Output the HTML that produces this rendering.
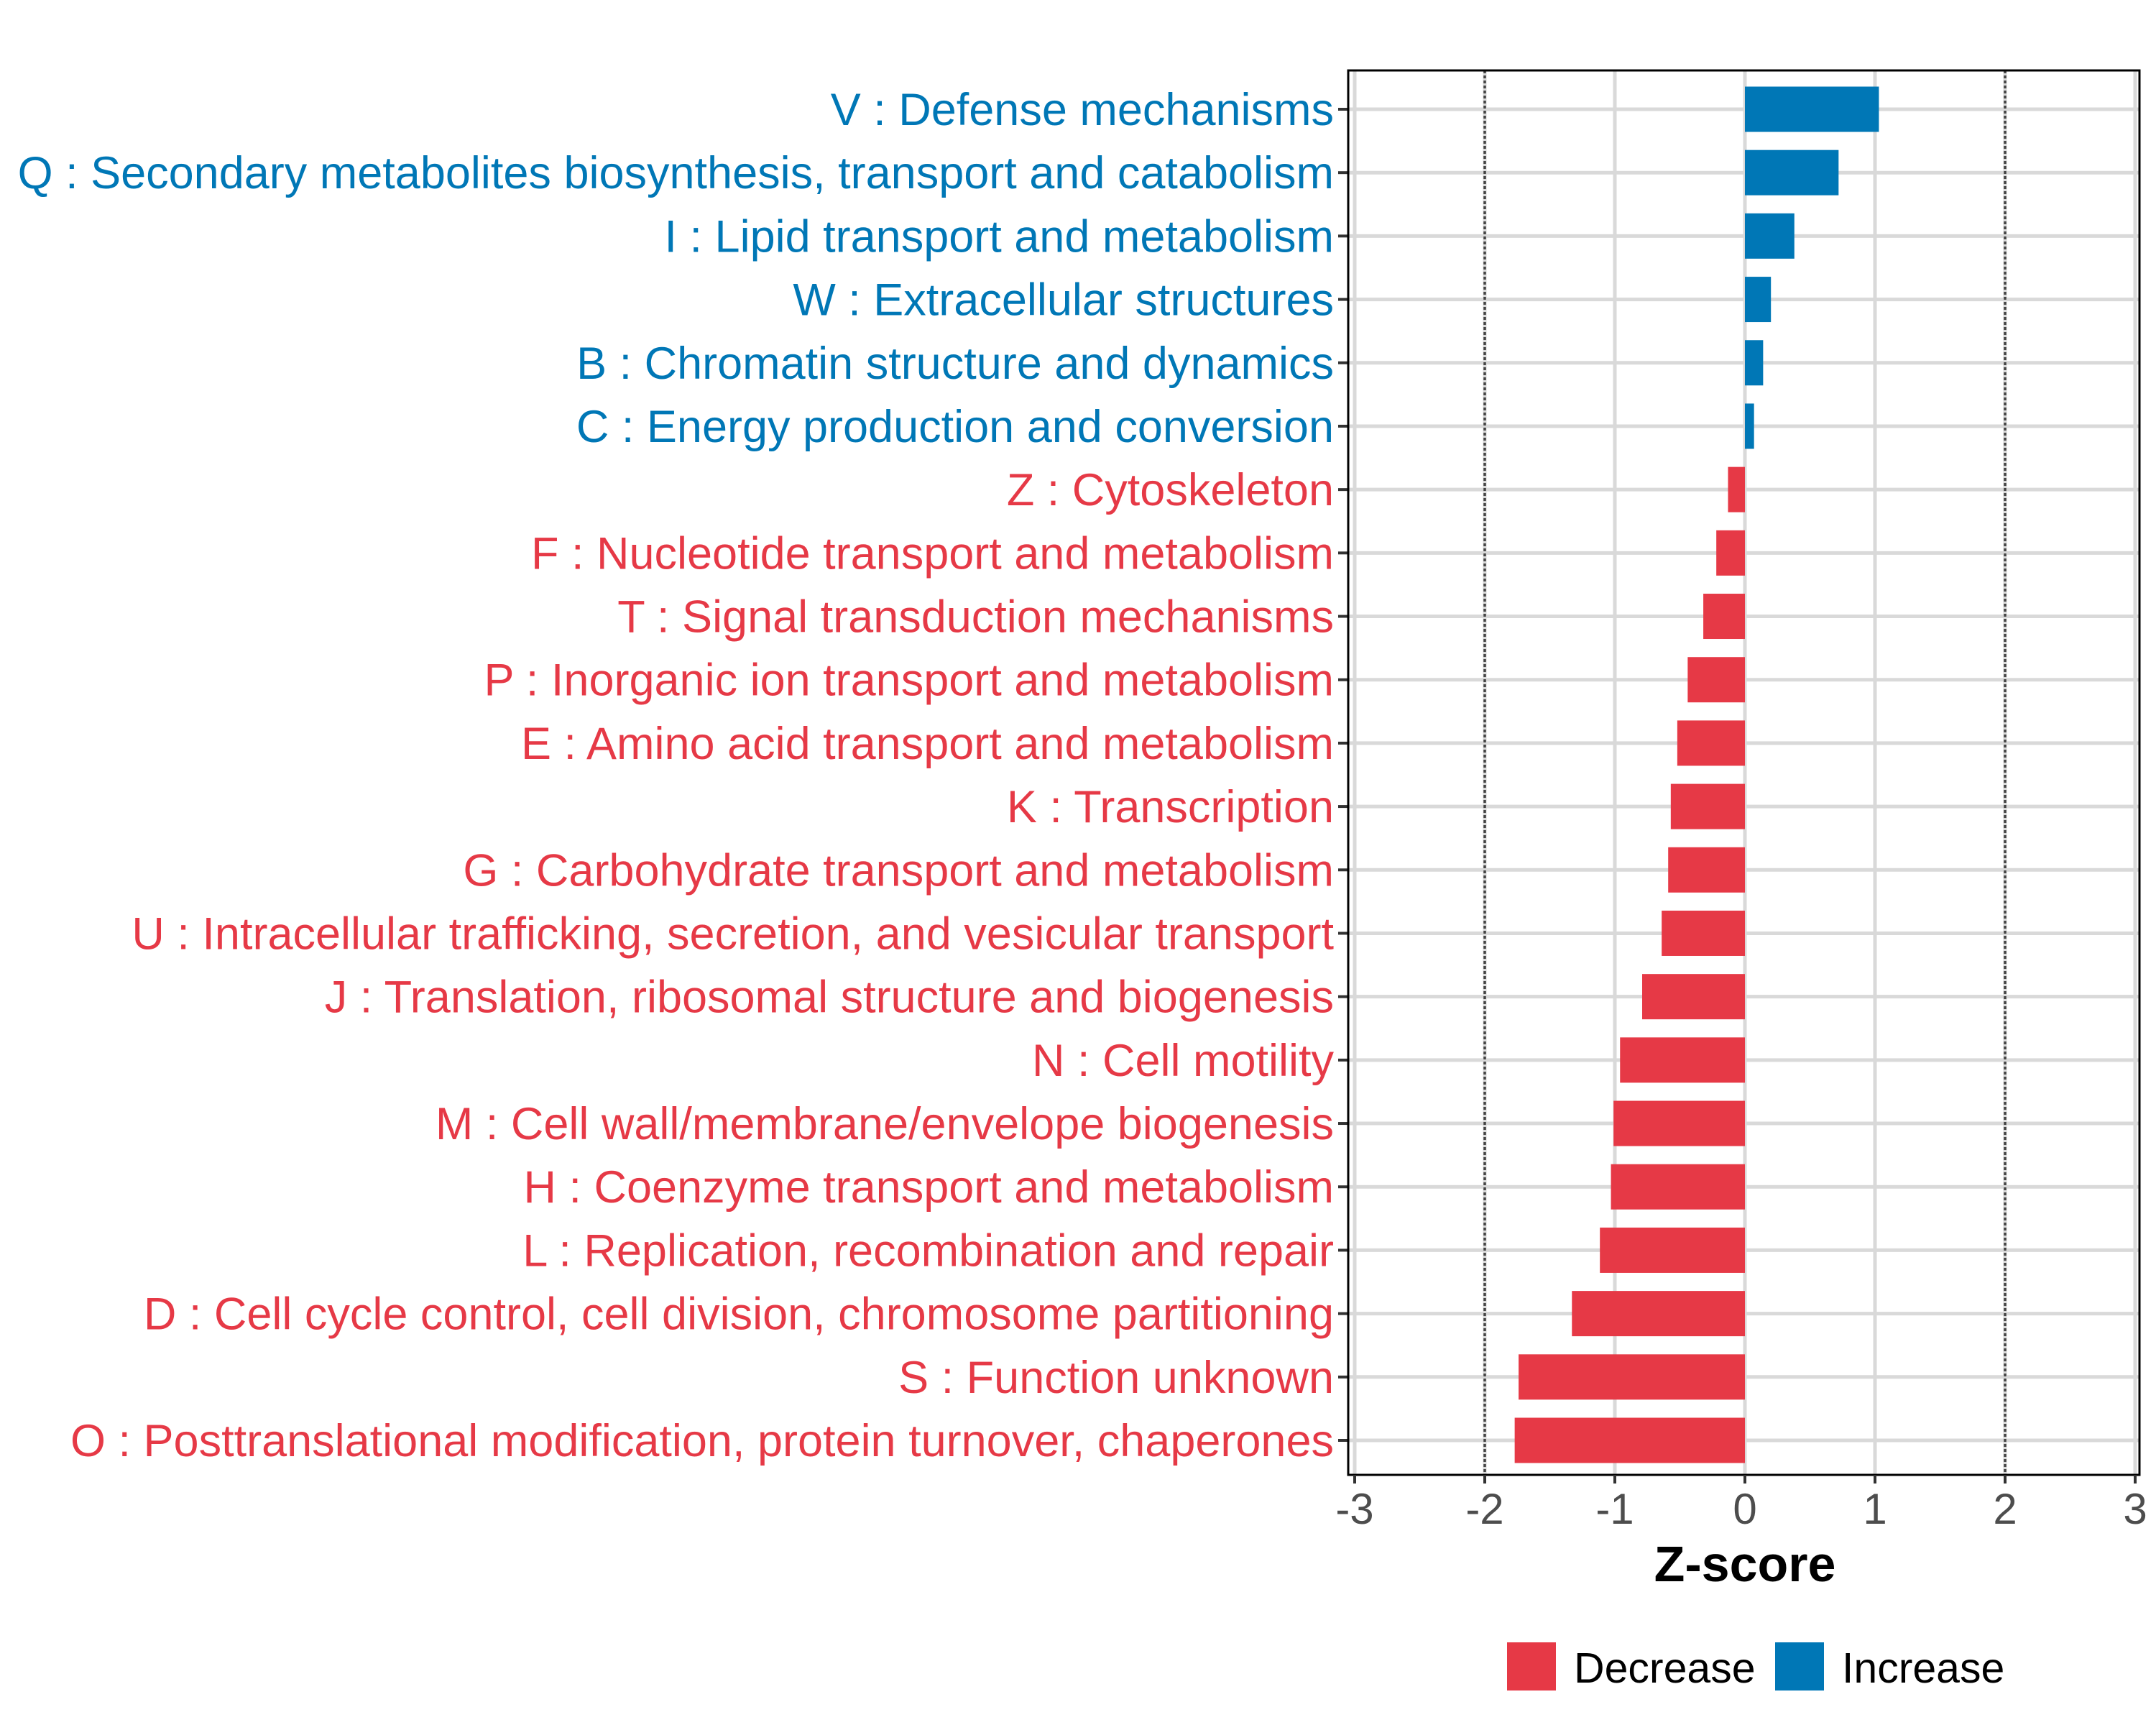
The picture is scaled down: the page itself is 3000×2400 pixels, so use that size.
<!DOCTYPE html>
<html><head><meta charset="utf-8"><style>
html,body{margin:0;padding:0;background:#fff;}
svg{display:block;font-family:"Liberation Sans",Arial,sans-serif;}
</style></head><body>
<svg id="chart" width="3000" height="2400" viewBox="0 0 3000 2400" xmlns="http://www.w3.org/2000/svg">
<rect x="0" y="0" width="3000" height="2400" fill="#fff"/>
<g id="grid"></g><g id="bars"></g><g id="axes"></g>
</svg>
<script>
const categories = ["V : Defense mechanisms","Q : Secondary metabolites biosynthesis, transport and catabolism","I : Lipid transport and metabolism","W : Extracellular structures","B : Chromatin structure and dynamics","C : Energy production and conversion","Z : Cytoskeleton","F : Nucleotide transport and metabolism","T : Signal transduction mechanisms","P : Inorganic ion transport and metabolism","E : Amino acid transport and metabolism","K : Transcription","G : Carbohydrate transport and metabolism","U : Intracellular trafficking, secretion, and vesicular transport","J : Translation, ribosomal structure and biogenesis","N : Cell motility","M : Cell wall/membrane/envelope biogenesis","H : Coenzyme transport and metabolism","L : Replication, recombination and repair","D : Cell cycle control, cell division, chromosome partitioning","S : Function unknown","O : Posttranslational modification, protein turnover, chaperones"];
const zscores = [1.03,0.72,0.38,0.20,0.14,0.07,-0.13,-0.22,-0.32,-0.44,-0.52,-0.57,-0.59,-0.64,-0.79,-0.96,-1.01,-1.03,-1.115,-1.33,-1.74,-1.77];
const xTicks = [-3,-2,-1,0,1,2,3];
const xTickLabels = ["-3","-2","-1","0","1","2","3"];
const thresholds = [-2,2];
const legendLabels = ["Decrease","Increase"];

const NS="http://www.w3.org/2000/svg";
const RED="#E63946", BLUE="#0077B6";
const PL=1876, PR=2977, PT=98, PB=2052;
const X0=2428, XU=181;
const xs = v => X0 + v*XU;
const ROW0=152, ROWSTEP=(2004-152)/(categories.length-1);
const ys = i => ROW0 + i*ROWSTEP;
function mk(tag, attrs, parent){const e=document.createElementNS(NS,tag);for(const k in attrs)e.setAttribute(k,attrs[k]);parent.appendChild(e);return e;}
const grid=document.getElementById('grid'), bars=document.getElementById('bars'), axes=document.getElementById('axes');

xTicks.forEach((t,i)=>{
  const l=mk('line',{x1:xs(t),x2:xs(t),y1:PT,y2:PB,stroke:'#d9d9d9','stroke-width':5},grid);
  
  
});
categories.forEach((c,i)=>{
  const l=mk('line',{x1:PL,x2:PR,y1:ys(i),y2:ys(i),stroke:'#d9d9d9','stroke-width':5},grid);
  
  
});
thresholds.forEach(t=>{
  const l=mk('line',{x1:xs(t),x2:xs(t),y1:PT,y2:PB,stroke:'#444','stroke-width':3.5,'stroke-dasharray':'4 3'},grid);
  
  
});
const BH=63;
zscores.forEach((v,i)=>{
  const col=v>=0?BLUE:RED;
  const r=mk('rect',{x:Math.min(xs(0),xs(v)),y:ys(i)-BH/2,width:Math.abs(xs(v)-xs(0)),height:BH,fill:col},bars);
  
  
  const t=mk('text',{x:1856,y:ys(i)+22,'text-anchor':'end','font-size':63,fill:col},axes);
  t.textContent=categories[i];
  
  
  const tk=mk('line',{x1:1862,x2:PL,y1:ys(i),y2:ys(i),stroke:'#333','stroke-width':4},axes);
  
  
});
const border=mk('rect',{x:PL,y:PT,width:PR-PL,height:PB-PT,fill:'none',stroke:'#000','stroke-width':3},axes);


xTicks.forEach((t,i)=>{
  const tk=mk('line',{x1:xs(t),x2:xs(t),y1:PB,y2:PB+12,stroke:'#333','stroke-width':4},axes);
  
  
  const tl=mk('text',{x:xs(t),y:2120,'text-anchor':'middle','font-size':60,fill:'#4d4d4d'},axes);
  tl.textContent=xTickLabels[i];
  
  
});
const xt=mk('text',{x:X0,y:2200,'text-anchor':'middle','font-size':70,'font-weight':'bold',fill:'#000'},axes);
xt.textContent='Z-score';


const legendKeyX=[2097,2470], legendColors=[RED,BLUE];
legendLabels.forEach((lab,i)=>{
  const k=mk('rect',{x:legendKeyX[i],y:2285,width:68,height:67,fill:legendColors[i]},axes);
  
  
  const t=mk('text',{x:legendKeyX[i]+93,y:2341,'font-size':59,fill:'#000'},axes);
  t.textContent=lab;
  
  
});
</script>
</body></html>
